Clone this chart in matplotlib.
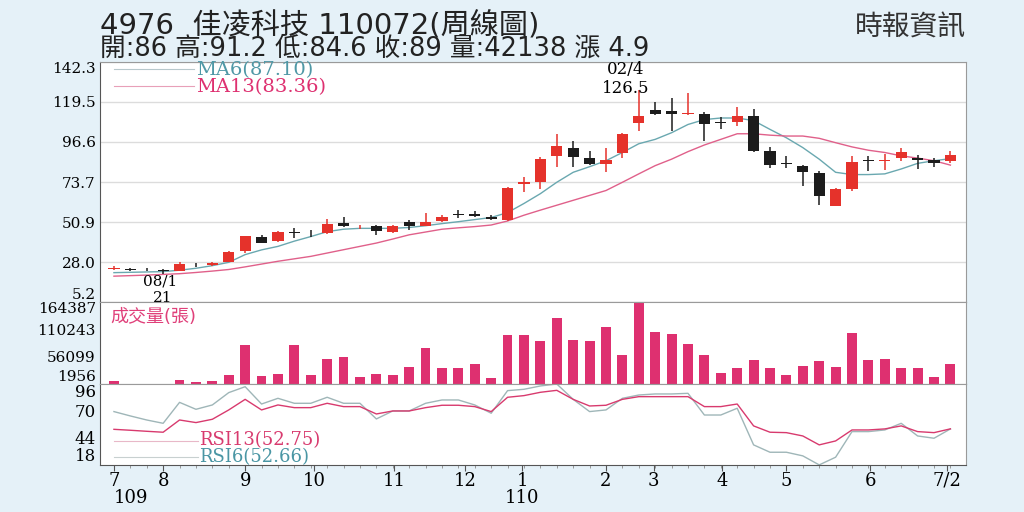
import matplotlib
matplotlib.use("Agg")
import matplotlib.pyplot as plt
import matplotlib.transforms as mtransforms
import numpy as np

# weekly candles, 2020/07 .. 2021/07/02
opens  = [24.0, 24.3, 23.8, 23.5, 23.2, 26.4, 26.2, 28.3, 34.1, 42.6,
          40.2, 45.0, 44.7, 44.5, 50.3, 47.8, 48.6, 45.4, 50.7, 48.8,
          51.6, 55.3, 55.6, 53.9, 52.0, 72.6, 73.6, 88.7, 93.0, 87.4,
          84.0, 90.2, 107.5, 115.1, 114.5, 112.8, 112.8, 108.0, 108.1, 111.3,
          91.5, 84.2, 82.9, 79.0, 60.1, 69.5, 86.2, 85.5, 87.4, 87.7,
          86.6, 86.0]
highs  = [25.6, 24.9, 24.4, 24.2, 28.0, 27.3, 28.0, 34.3, 43.2, 43.4,
          46.0, 47.3, 46.5, 52.4, 53.5, 49.4, 49.0, 49.2, 52.0, 56.0,
          55.0, 57.5, 57.0, 55.0, 71.0, 76.5, 88.0, 101.3, 97.2, 91.5,
          93.0, 101.5, 126.5, 119.7, 122.0, 124.4, 114.0, 110.7, 116.4, 115.4,
          93.8, 88.8, 83.4, 79.8, 70.5, 88.7, 88.7, 89.5, 93.0, 89.2,
          87.6, 91.2]
lows   = [23.4, 23.2, 22.8, 21.0, 22.9, 25.4, 25.9, 27.9, 33.2, 38.9,
          39.6, 41.7, 42.3, 44.0, 47.9, 47.2, 43.6, 44.8, 46.5, 48.4,
          50.8, 53.2, 53.8, 52.0, 51.4, 68.0, 69.9, 82.1, 82.5, 83.2,
          79.7, 87.4, 102.8, 111.8, 102.8, 112.0, 97.2, 104.1, 106.0, 91.1,
          81.8, 82.0, 71.2, 60.5, 59.8, 68.4, 80.2, 80.4, 86.0, 81.3,
          82.3, 84.6]
closes = [24.6, 23.7, 23.3, 22.9, 27.0, 26.1, 27.6, 33.6, 43.0, 39.2,
          45.1, 44.8, 44.4, 49.8, 48.6, 48.2, 46.0, 48.6, 48.8, 51.1,
          53.9, 55.1, 54.6, 52.8, 70.5, 73.8, 86.8, 94.3, 88.3, 83.8,
          86.1, 101.3, 111.3, 112.6, 112.8, 113.2, 106.6, 107.3, 111.3, 91.5,
          83.6, 83.9, 79.3, 65.7, 69.5, 85.3, 85.9, 86.3, 91.1, 86.3,
          84.6, 89.0]

ma6  = [22.0, 22.2, 22.4, 22.6, 23.4, 24.5, 26.0, 27.9, 32.3, 35.0,
        37.0, 40.0, 42.6, 45.4, 46.8, 47.3, 47.3, 47.3, 47.8, 48.8,
        50.0, 51.1, 52.3, 53.5, 56.3, 61.5, 67.1, 73.6, 79.3, 82.5,
        85.9, 90.6, 95.6, 98.1, 101.9, 106.6, 109.4, 110.3, 110.3, 108.8,
        103.8, 99.0, 93.4, 86.8, 79.3, 78.0, 78.0, 78.4, 81.2, 84.4,
        85.9, 87.1]
ma13 = [20.0, 20.3, 20.6, 21.0, 21.4, 22.1, 22.9, 23.8, 25.3, 26.9,
        28.5, 29.9, 31.3, 33.2, 35.1, 37.0, 38.9, 41.2, 43.6, 45.2,
        46.8, 47.6, 48.3, 49.2, 51.5, 54.8, 57.7, 60.5, 63.3, 66.1,
        68.9, 73.6, 78.4, 83.1, 86.8, 91.1, 94.9, 98.1, 101.3, 101.3,
        100.5, 100.0, 100.0, 98.7, 96.2, 93.8, 91.9, 90.6, 88.7, 87.4,
        85.9, 83.4]

volume = [8586, 1800, 1800, 1800, 9249, 5934, 7923, 20520, 79527, 17868,
          21846, 79527, 19857, 52344, 55659, 15879, 21183, 19857, 35769, 72897,
          33117, 33117, 42399, 13890, 98754, 99417, 86820, 132567, 89472, 86820,
          114666, 58974, 164387, 106047, 100743, 80853, 60300, 24498, 33117, 49029,
          33117, 19194, 37095, 47703, 35769, 102732, 49029, 51018, 33780, 34443,
          15216, 42138]

rsi13 = [52.3, 51.4, 50.4, 49.5, 61.3, 58.8, 62.0, 71.0, 81.2, 71.0,
         75.8, 73.2, 73.2, 77.4, 74.2, 74.2, 67.1, 70.0, 70.0, 73.2,
         75.5, 75.5, 74.2, 69.4, 83.2, 84.8, 88.0, 89.9, 81.2, 74.8,
         75.5, 81.2, 83.8, 83.8, 83.8, 83.8, 74.2, 74.2, 76.7, 55.6,
         49.5, 49.1, 45.9, 37.3, 41.1, 51.7, 51.7, 52.7, 55.6, 50.1,
         49.1, 52.75]
rsi6  = [69.4, 65.2, 61.3, 58.1, 78.3, 71.6, 75.8, 87.7, 93.4, 76.7,
         82.2, 77.4, 77.4, 83.2, 77.4, 77.4, 62.3, 70.0, 70.0, 77.4,
         80.6, 80.6, 75.8, 67.8, 89.6, 90.9, 94.1, 96.0, 81.2, 69.4,
         71.0, 82.2, 85.4, 86.4, 86.4, 87.0, 66.1, 66.1, 72.6, 37.3,
         30.2, 30.2, 26.7, 18.0, 25.4, 50.1, 50.1, 51.7, 58.1, 45.9,
         43.7, 52.66]

price_ticks = [5.2, 28.0, 50.9, 73.7, 96.6, 119.5, 142.3]
vol_ticks = [1956, 56099, 110243, 164387]
rsi_ticks = [18, 44, 70, 96]
month_pos = [0, 3, 8, 12.2, 17.1, 21.4, 24.9, 30, 32.9, 37.1, 41, 46.1, 50.8]
month_labels = ["7", "8", "9", "10", "11", "12", "1", "2", "3", "4", "5", "6", "7/2"]

BG = "#e5f1f8"
RED = "#e5322b"
BLACK = "#1c1c1c"
PINK = "#de3070"
TEAL = "#4f98a6"
SERIF = "DejaVu Serif"
CJK = ["DejaVu Sans", "Noto Sans CJK TC"]

x = np.arange(len(closes))
o = np.array(opens); c = np.array(closes)
h = np.array(highs); l = np.array(lows)

fig = plt.figure(figsize=(10.24, 5.12), dpi=100, facecolor=BG)
L, W = 100 / 1024, 866 / 1024
ax1 = fig.add_axes([L, 0.410, W, 0.469])
ax2 = fig.add_axes([L, 0.250, W, 0.160], sharex=ax1)
ax3 = fig.add_axes([L, 0.092, W, 0.158], sharex=ax1)

for ax in (ax1, ax2, ax3):
    ax.set_facecolor("white")
    for s in ax.spines.values():
        s.set_color("#9a9a9a")
        s.set_linewidth(0.8)
    ax.spines["left"].set_color("#555555")
    ax.tick_params(axis="y", length=0, labelsize=11, pad=3)
ax1.set_xlim(-0.85, 51.95)

# --- price panel
ax1.set_ylim(5.2, 142.3)
ax1.set_yticks(price_ticks)
ax1.set_yticklabels(["%.1f" % v for v in price_ticks], fontfamily=SERIF, fontsize=11)
ax1.grid(axis="y", color="#dcdcdc", linewidth=1)
ax1.tick_params(axis="x", bottom=False, labelbottom=False)

up = c >= o
cols = np.where(up, RED, BLACK)
ax1.vlines(x, l, h, colors=cols, linewidth=1.1, zorder=3)
body_lo = np.minimum(o, c)
body_h = np.maximum(np.abs(c - o), 0.5)
ax1.bar(x, body_h, bottom=body_lo, width=0.68, color=cols, zorder=4)
ax1.plot(x, ma6, color="#6aa8b0", linewidth=1.0, zorder=2)
ax1.plot(x, ma13, color="#e0608a", linewidth=1.0, zorder=2)

lbls = ax1.get_yticklabels()
lbls[0].set_va("bottom")
lbls[-1].set_va("top")

# legends
ax1.plot([0, 4.9], [138.0, 138.0], color="#b8c8cc", linewidth=0.8)
ax1.plot([0, 4.9], [128.3, 128.3], color="#e8a0b8", linewidth=0.8)
ax1.text(5.0, 137.6, "MA6(87.10)", color=TEAL, fontsize=14, fontfamily=SERIF, va="center")
ax1.text(5.0, 127.9, "MA13(83.36)", color=PINK, fontsize=14, fontfamily=SERIF, va="center")

ax1.text(31.2, 138.0, "02/4", fontsize=12, fontfamily=SERIF, ha="center", va="center")
ax1.text(31.2, 127.3, "126.5", fontsize=12, fontfamily=SERIF, ha="center", va="center")
ax1.text(2.8, 17.0, "08/1", fontsize=11, fontfamily=SERIF, ha="center", va="center", zorder=6)
ax1.text(3.0, 7.6, "21", fontsize=11, fontfamily=SERIF, ha="center", va="center", zorder=6)

# --- volume panel
ax2.bar(x, volume, width=0.6, color=PINK)
ax2.set_ylim(1956, 164387)
ax2.set_yticks(vol_ticks)
ax2.set_yticklabels([str(v) for v in vol_ticks], fontfamily=SERIF, fontsize=11)
vl = ax2.get_yticklabels()
vl[0].set_va("bottom")
vl[-1].set_va("top")
ax2.tick_params(axis="x", bottom=False, labelbottom=False)
ax2.text(0.012, 0.93, "成交量(張)", transform=ax2.transAxes, color="#e0407a",
         fontsize=13, fontfamily=CJK, va="top")

# --- RSI panel
ax3.plot(x, rsi6, color="#9fb6b8", linewidth=1.0)
ax3.plot(x, rsi13, color="#d83a6e", linewidth=1.0)
ax3.set_ylim(18, 96)
ax3.set_yticks(rsi_ticks)
ax3.set_yticklabels([str(v) for v in rsi_ticks], fontfamily=SERIF, fontsize=12)
rl = ax3.get_yticklabels()
rl[0].set_va("bottom")
rl[-1].set_va("top")
ax3.plot([0, 5.1], [41.5, 41.5], color="#e8b8c8", linewidth=0.8)
ax3.plot([0, 5.1], [26.0, 26.0], color="#c8d0d0", linewidth=0.8)
ax3.text(5.2, 41.5, "RSI13(52.75)", color="#d83a6e", fontsize=13, fontfamily=SERIF, va="center")
ax3.text(5.2, 26.0, "RSI6(52.66)", color="#4a96a4", fontsize=13, fontfamily=SERIF, va="center")

ax3.set_xticks(month_pos)
ax3.set_xticklabels(month_labels, fontfamily=SERIF, fontsize=13)
ax3.set_xticks(x, minor=True)
ax3.tick_params(axis="x", which="major", length=4, color="#555555", pad=1)
ax3.tick_params(axis="x", which="minor", length=2, color="#888888")
ax3.spines["bottom"].set_color("#555555")

trans = mtransforms.blended_transform_factory(ax3.transData, fig.transFigure)
ax3.text(0, 0.018, "109", transform=trans, fontsize=13, fontfamily=SERIF, ha="left")
ax3.text(24.9, 0.018, "110", transform=trans, fontsize=13, fontfamily=SERIF, ha="center")

# --- header
fig.text(L, 0.935, "4976  佳凌科技 110072(周線圖)", fontsize=21, fontfamily=CJK,
         color="#222222", va="baseline")
fig.text(L, 0.889, "開:86 高:91.2 低:84.6 收:89 量:42138 漲 4.9", fontsize=18.5,
         fontfamily=CJK, color="#222222", va="baseline")
fig.text(0.943, 0.93, "時報資訊", fontsize=20, fontfamily=CJK, color="#333333",
         ha="right", va="baseline")

fig.savefig("out.png", dpi=100, facecolor=BG)
